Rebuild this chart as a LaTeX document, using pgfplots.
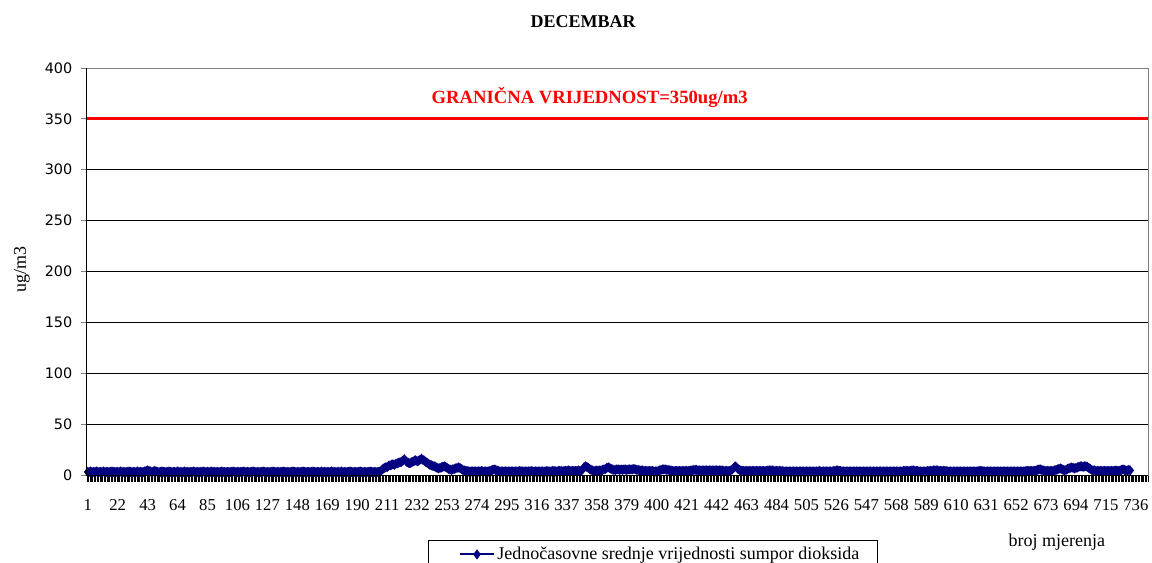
\documentclass[border=0pt]{standalone}
\usepackage{pgfplots}
\pgfplotsset{compat=1.18}
\usepackage{pgfplotstable}
\usepackage{fontspec}
\setmainfont{Liberation Serif}
\newfontfamily\ysans{DejaVu Sans}
\definecolor{navyblue}{RGB}{0,0,128}
\definecolor{gborder}{RGB}{128,128,128}

\pgfplotstableread[row sep=\\]{
y\\
3\\3\\3.5\\3\\3\\3\\3.5\\3\\3\\3\\3\\3.5\\3\\3\\3\\3\\3\\3.5\\3\\3\\
3\\3\\3\\3.5\\3\\3\\3\\3\\3\\3.5\\3\\3\\3\\3\\3\\3.5\\3\\3\\3\\3\\
3.5\\4\\4.5\\4\\3.5\\3\\3.5\\4\\3.5\\3\\3\\3\\3.5\\3\\3\\3\\3\\3.5\\3\\3\\
3\\3\\3\\3.5\\3\\3\\3\\3\\3.5\\3\\3\\3\\3\\3\\3.5\\3\\3\\3\\3\\3\\
3\\3.5\\3\\3\\3\\3\\3\\3.5\\3\\3\\3\\3\\3\\3\\3.5\\3\\3\\3\\3\\3\\
3\\3\\3.5\\3\\3\\3\\3\\3\\3\\3.5\\3\\3\\3\\3\\3\\3\\3.5\\3\\3\\3\\
3\\3\\3\\3.5\\3\\3\\3\\3\\3\\3\\3.5\\3\\3\\3\\3\\3\\3\\3.5\\3\\3\\
3\\3\\3\\3\\3.5\\3\\3\\3\\3\\3\\3\\3.5\\3\\3\\3\\3\\3\\3\\3.5\\3\\
3\\3\\3\\3\\3.5\\3\\3\\3\\3\\3\\3\\3.5\\3\\3\\3\\3\\3\\3\\3.5\\3\\
3\\3\\3\\3\\3.5\\3\\3\\3\\3\\3\\3\\3.5\\3\\3\\3\\3\\3\\3\\3.5\\3\\
3\\3\\3\\3\\3\\3.5\\4.5\\6\\7\\7.5\\8\\9\\9.5\\10\\10.5\\10\\11\\11.5\\12\\12.5\\
13\\14\\15.5\\14\\12.5\\12\\11.5\\12.5\\13\\14\\14.5\\13.5\\14\\15\\16\\15\\14\\13\\12\\11\\
10\\9.5\\9\\8.5\\8\\7\\6.5\\7\\7.5\\8\\8.5\\8\\7\\6\\5.5\\5\\5.5\\6\\6.5\\7\\
7.5\\7\\6\\5\\4.5\\4\\4\\3.5\\3.5\\3.5\\3.5\\3.5\\3.5\\3.5\\3.5\\3.5\\4\\3.5\\3.5\\3.5\\
3.5\\3.5\\4\\4.5\\5\\5.5\\5\\4.5\\4\\3.5\\3.5\\3.5\\3.5\\3.5\\3.5\\3.5\\3.5\\3.5\\3.5\\3.5\\
3.5\\3.5\\3.5\\4\\3.5\\3.5\\3.5\\3.5\\3.5\\3.5\\3.5\\4\\3.5\\3.5\\3.5\\3.5\\3.5\\3.5\\3.5\\3.5\\
3.5\\3.5\\4\\3.5\\3.5\\3.5\\4\\4\\3.5\\3.5\\4\\4\\4\\3.5\\4\\4\\4\\4.5\\4\\4\\
4\\4\\4\\4\\4.5\\4\\4\\5.5\\7.5\\8.5\\8\\7\\6\\5\\4.5\\4\\4\\4.5\\4\\4.5\\
4.5\\5\\5.5\\6\\7\\7.5\\7\\6\\5.5\\5\\5\\5.5\\5.5\\5\\5.5\\5\\5.5\\5.5\\5\\5.5\\
5.5\\5.5\\5.5\\6\\5.5\\5\\5\\4.5\\4.5\\4.5\\4\\4\\4\\4\\4\\4\\4\\3.5\\3.5\\3.5\\
4\\4.5\\5\\5.5\\5.5\\5.5\\5\\5\\4.5\\4.5\\4\\4\\4\\4\\4\\4\\4\\4\\4\\4\\
4\\4\\4\\4.5\\4.5\\5\\5\\5\\4.5\\4.5\\4.5\\4.5\\4.5\\4.5\\4.5\\4.5\\4.5\\4.5\\4.5\\4.5\\
4.5\\4.5\\4.5\\4.5\\4.5\\4.5\\4\\4\\4\\4\\4\\4.5\\5.5\\7\\8.5\\7.5\\6\\5\\4.5\\4\\
4\\4\\4\\4\\4\\4\\4\\4\\4\\4\\4\\4\\4\\4\\4\\4\\4\\4.5\\4.5\\4.5\\
4.5\\4\\4\\4\\4\\4\\4\\4\\3.5\\3.5\\3.5\\3.5\\3.5\\3.5\\3.5\\3.5\\3.5\\3.5\\3.5\\3.5\\
3.5\\3.5\\3.5\\3.5\\3.5\\3.5\\3.5\\3.5\\3.5\\3.5\\3.5\\3.5\\3.5\\4\\3.5\\3.5\\3.5\\3.5\\3.5\\3.5\\
3.5\\3.5\\3.5\\4\\4\\4.5\\4.5\\4\\4\\3.5\\3.5\\3.5\\3.5\\3.5\\3.5\\3.5\\3.5\\3.5\\3.5\\3.5\\
3.5\\3.5\\3.5\\3.5\\3.5\\3.5\\3.5\\3.5\\3.5\\3.5\\3.5\\3.5\\3.5\\3.5\\3.5\\3.5\\3.5\\3.5\\3.5\\3.5\\
3.5\\3.5\\3.5\\3.5\\3.5\\3.5\\3.5\\3.5\\3.5\\3.5\\3.5\\3.5\\4\\4\\4\\4\\4\\4\\4.5\\4.5\\
4\\4\\4\\3.5\\3.5\\3.5\\3.5\\3.5\\3.5\\4\\4\\4\\4\\4.5\\4.5\\4.5\\4.5\\4\\4\\4\\
4\\4\\4\\3.5\\3.5\\3.5\\3.5\\3.5\\3.5\\3.5\\3.5\\3.5\\3.5\\3.5\\3.5\\3.5\\3.5\\3.5\\3.5\\3.5\\
3.5\\3.5\\3.5\\3.5\\3.5\\4\\4\\4\\3.5\\3.5\\3.5\\3.5\\3.5\\3.5\\3.5\\3.5\\3.5\\3.5\\3.5\\3.5\\
3.5\\3.5\\3.5\\3.5\\3.5\\3.5\\3.5\\3.5\\3.5\\3.5\\3.5\\3.5\\3.5\\3.5\\3.5\\3.5\\3.5\\3.5\\4\\4\\
4\\4\\4\\4\\4\\4.5\\5\\5.5\\5.5\\5\\4.5\\4\\4\\4\\4\\4\\4\\4\\4.5\\5\\
5.5\\6\\6.5\\6\\5\\4.5\\5\\6\\6.5\\7\\7.5\\7\\6.5\\7\\7.5\\8\\8.5\\8.5\\8\\8.5\\
8.5\\8\\7\\6\\5\\4.5\\4.5\\4\\4\\4\\4\\4\\4\\4\\4\\4\\4\\4\\4\\4\\
4\\4.5\\4\\4\\4.5\\5\\5.5\\5\\4.5\\4.5\\5\\4.5\\
}\sodata

\begin{document}
\begin{tikzpicture}
\useasboundingbox (-65.25pt,-65.25pt) rectangle (798.75pt,356.25pt);
\clip (-65.25pt,-65.25pt) rectangle (798.75pt,356.25pt);
\begin{axis}[
  at={(0pt,0pt)}, anchor=south west,
  scale only axis, width=795.75pt, height=305.25pt,
  xmin=0.5, xmax=744.5, ymin=0, ymax=400,
  clip mode=individual,
  ytick={0,50,...,400},
  xtick={1,22,...,736},
  minor xtick={0.5,1.5,...,744.5},
  tick align=outside,
  xtick pos=lower, ytick pos=left,
  major tick length=4.5pt, minor tick length=5.25pt,
  major x tick style={draw=none},
  minor x tick style={black, line width=0.5pt},
  major y tick style={gborder, line width=0.75pt},
  ymajorgrids, grid style={black, line width=0.75pt},
  axis line style={gborder, line width=0.75pt},
  /pgf/number format/assume math mode=true,
  x tick label style={font=\fontsize{12.5}{13}\selectfont, yshift=-10.5pt},
  y tick label style={font=\ysans\fontsize{10.8}{12}\selectfont, xshift=-3pt},
  ylabel={ug/m3},
  ylabel style={font=\fontsize{13.5}{15}\selectfont, at={(axis description cs:-0.0613,0.504)}, anchor=center},
  legend style={at={(axis description cs:0.5335,-0.1597)}, anchor=north, draw=black, line width=0.75pt, font=\fontsize{13.5}{15}\selectfont, inner xsep=12pt, inner ysep=3pt, fill=white},
  legend cell align=left,
  legend image code/.code={\path (0cm,0cm); \draw[mark repeat=2,mark phase=2,#1] plot coordinates {(0.4cm,0cm) (0.84cm,0cm) (1.28cm,0cm)};},
]
\addplot[red, line width=2.25pt, forget plot] coordinates {(0.5,350) (744.5,350)};
\addplot[navyblue, line width=1.5pt, mark=diamond*, mark size=2.6pt, mark options={solid, fill=navyblue}] table[x expr=\coordindex+1, y=y] {\sodata};
\addlegendentry{Jednočasovne srednje vrijednosti sumpor dioksida}
\draw[black, line width=0.75pt] (rel axis cs:0,1) -- (rel axis cs:0,0) -- (rel axis cs:1,0);
\node[text=red, font=\bfseries\fontsize{14}{16}\selectfont] at (axis cs:353,371) {GRANIČNA VRIJEDNOST=350ug/m3};
\node[font=\bfseries\fontsize{13.5}{15}\selectfont] at (axis description cs:0.4675,1.113) {DECEMBAR};
\node[font=\fontsize{13.5}{15}\selectfont] at (axis description cs:0.914,-0.1646) {broj mjerenja};
\end{axis}
\end{tikzpicture}
\end{document}
